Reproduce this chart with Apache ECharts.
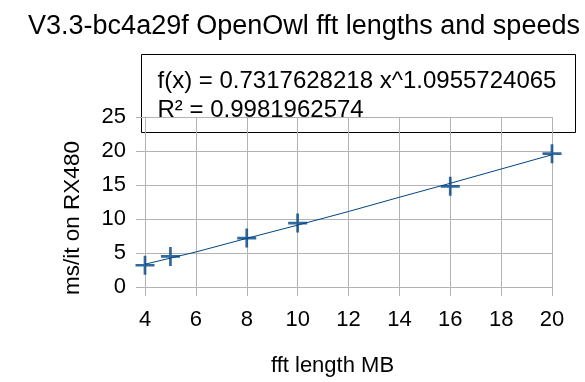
<!DOCTYPE html>
<html>
<head>
<meta charset="utf-8">
<script src="https://cdn.jsdelivr.net/npm/echarts@6/dist/echarts.min.js"></script>
<style>
  html, body { margin: 0; padding: 0; background: #ffffff; }
  #chart { width: 585px; height: 382px; }
</style>
</head>
<body>
<div id="chart"></div>
<script>
// measured points (fft length MB -> ms/it)
var fftLengths = [4, 5, 8, 10, 16, 20];
var msPerIt = [3.2, 4.5, 7.2, 9.4, 14.8, 19.6];

// power trendline
var trendX = [4, 6, 8, 10, 12, 14, 16, 18, 20];
var trendY = [3.35, 5.15, 7.15, 9.1, 11.1, 13.2, 15.25, 17.35, 19.45];

var fitLine1 = 'f(x) = 0.7317628218 x^1.0955724065';
var fitLine2 = 'R² = 0.9981962574';

var blue = '#004586';
var gridGrey = '#b3b3b3';
var plusPath = 'path://M9,0 h3 v9 h9 v3 h-9 v9 h-3 v-9 h-9 v-3 h9 z';

var chart = echarts.init(document.getElementById('chart'), null, { renderer: 'canvas' });

var option = {
  backgroundColor: '#ffffff',
  animation: false,
  textStyle: { fontFamily: 'Liberation Sans' },
  title: {
    text: 'V3.3-bc4a29f OpenOwl fft lengths and speeds',
    left: 299,
    textAlign: 'center',
    top: 8,
    textStyle: { fontFamily: 'Liberation Sans', fontSize: 27, fontWeight: 'normal', color: '#000' }
  },
  grid: { left: 145, right: 33, top: 117, bottom: 95 },
  xAxis: {
    type: 'value',
    min: 4,
    max: 20,
    interval: 2,
    name: 'fft length MB',
    nameLocation: 'middle',
    nameGap: 68,
    nameTextStyle: { fontSize: 22, color: '#000', padding: [0, 32, 0, 0] },
    axisLine: { show: true, lineStyle: { color: gridGrey } },
    axisTick: { show: true, inside: false, length: 9, lineStyle: { color: gridGrey } },
    axisLabel: { fontSize: 22, color: '#000', margin: 22 },
    splitLine: { show: true, lineStyle: { color: gridGrey } }
  },
  yAxis: {
    type: 'value',
    min: 0,
    max: 25,
    interval: 5,
    name: 'ms/it on RX480',
    nameLocation: 'middle',
    nameGap: 61,
    nameTextStyle: { fontSize: 22.5, color: '#000', padding: [0, 32, 0, 0] },
    axisLine: { show: true, lineStyle: { color: gridGrey } },
    axisTick: { show: true, inside: false, length: 9, lineStyle: { color: gridGrey } },
    axisLabel: { fontSize: 22, color: '#000', margin: 19 },
    splitLine: { show: true, lineStyle: { color: gridGrey } }
  },
  series: [{
    name: 'trend',
    type: 'line',
    data: trendX.map(function (x, i) { return [x, trendY[i]]; }),
    showSymbol: false,
    symbol: 'none',
    lineStyle: { color: blue, width: 1 },
    z: 2
  }, {
    name: 'speed',
    type: 'scatter',
    data: fftLengths.map(function (x, i) { return [x, msPerIt[i]]; }),
    symbol: plusPath,
    symbolSize: 19,
    itemStyle: { color: blue },
    z: 3
  }],
  graphic: [{
    type: 'group',
    left: 141,
    top: 54,
    z: 10,
    children: [{
      type: 'rect',
      shape: { x: 0, y: 0, width: 434, height: 78 },
      style: { fill: '#ffffff', stroke: '#000000', lineWidth: 1 }
    }, {
      type: 'text',
      x: 16,
      y: 27,
      style: { text: fitLine1, font: '24px "Liberation Sans"', fill: '#000', verticalAlign: 'middle' }
    }, {
      type: 'text',
      x: 16,
      y: 56,
      style: { text: fitLine2, font: '24px "Liberation Sans"', fill: '#000', verticalAlign: 'middle' }
    }]
  }]
};

chart.setOption(option);
</script>
</body>
</html>
